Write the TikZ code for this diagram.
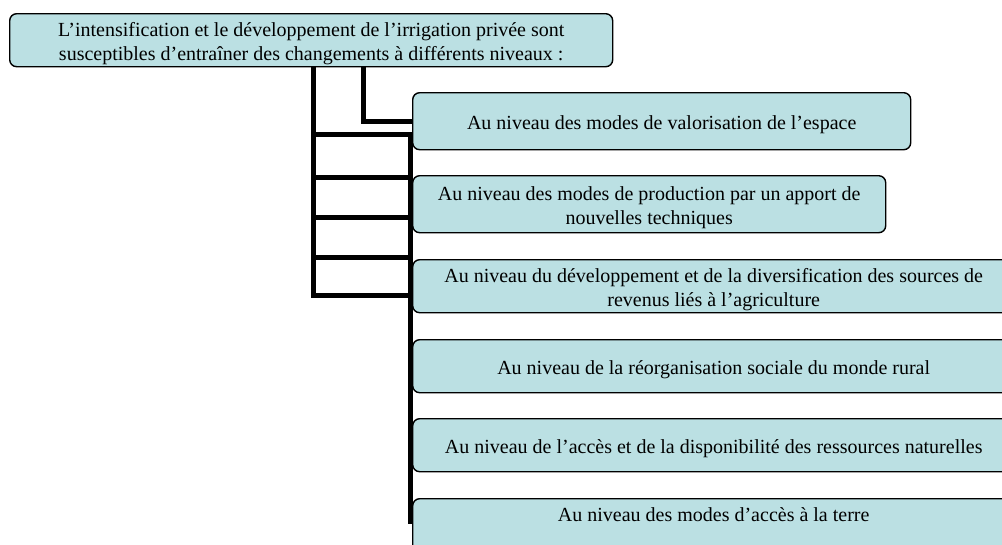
\documentclass[tikz,border=0pt]{standalone}
\usepackage{fontspec}
\setmainfont{Liberation Serif}
\definecolor{boxfill}{RGB}{187,224,227}
\newcommand\boxfont{\fontsize{20}{24}\selectfont}
\newcommand\lowr{\rule{0pt}{20pt}}
\begin{document}
\begin{tikzpicture}[x=1pt,y=-1pt,
  box/.style={draw=black, line width=1.4pt, fill=boxfill, rounded corners=7pt,
    anchor=north west, align=center, inner sep=2pt, font=\boxfont},
  conn/.style={line width=5pt, line join=miter}]
\useasboundingbox (0,0) rectangle (1002,544);
\clip (0,0) rectangle (1002,544);
% junction coordinates
\coordinate (topnw) at (9,13);
\coordinate (ja) at (313,295);
\coordinate (jb) at (363,121);
\coordinate (h1) at (412,134);
\coordinate (h2) at (412,177);
\coordinate (h3) at (412,217);
\coordinate (h4) at (412,257);
\coordinate (vend) at (410,524);
% connectors
\draw[conn] (313,66) -- (ja) -- (ja -| h1);
\draw[conn] (363,66) -- (jb) -- (jb -| h1);
\foreach \h in {h1,h2,h3,h4} \draw[conn] (ja |- \h) -- (\h);
\draw[conn] (h1 -| vend) -- (vend);
% boxes
\node[box, minimum width=603, minimum height=53] (top) at (topnw)
  {\lowr L’intensification et le développement de l’irrigation privée sont\\
   susceptibles d’entraîner des changements à différents niveaux :};
\node[box, minimum width=498, minimum height=57] (b1) at (412,92)
  {\lowr Au niveau des modes de valorisation de l’espace};
\node[box, minimum width=473, minimum height=57] (b2) at (412,175)
  {\lowr Au niveau des modes de production par  un apport de\\ nouvelles techniques};
\node[box, minimum width=602, minimum height=53] (b3) at (412,259)
  {\lowr Au niveau du développement et de la diversification des sources de\\ revenus liés à l’agriculture};
\node[box, minimum width=602, minimum height=53] (b4) at (412,339)
  {\lowr Au niveau de la réorganisation sociale du monde rural};
\node[box, minimum width=602, minimum height=53] (b5) at (412,418)
  {\lowr Au niveau de l’accès et de la disponibilité des ressources naturelles};
\node[box, minimum width=602, minimum height=56] (b6) at (412,498)
  {Au niveau des modes d’accès à la terre\\ \mbox{}};
\end{tikzpicture}
\end{document}
